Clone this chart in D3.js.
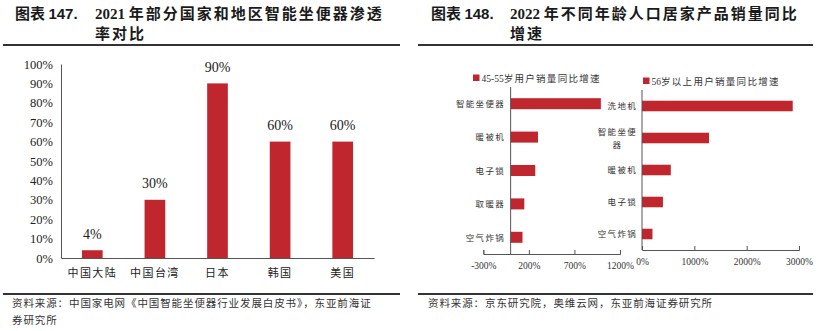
<!DOCTYPE html>
<html>
<head>
<meta charset="utf-8">
<script src="https://cdn.jsdelivr.net/npm/d3@7"></script>
<style>
  body { margin: 0; background: #fff; }
  svg { display: block; }
  .cjk { font-family: "Noto Sans CJK SC", sans-serif; }
  .num { font-family: "Liberation Serif", serif; }
</style>
</head>
<body>
<svg id="chart" width="819" height="331"></svg>
<script>
// left chart: penetration 2021
const regions = ["中国大陆", "中国台湾", "日本", "韩国", "美国"];
const penetration = [0.04, 0.30, 0.90, 0.60, 0.60];
const pctTicks = [0, 0.1, 0.2, 0.3, 0.4, 0.5, 0.6, 0.7, 0.8, 0.9, 1.0];

// right chart: growth by age group (%)
const productsA = ["智能坐便器", "暖被机", "电子锁", "取暖器", "空气炸锅"];
const growthA = [990, 300, 270, 150, 130];
const ticksA = [-300, 200, 700, 1200];
const seriesA = "45-55岁用户销量同比增速";

const productsB = ["洗地机", "智能坐便器", "暖被机", "电子锁", "空气炸锅"];
const growthB = [2880, 1280, 550, 400, 200];
const ticksB = [0, 1000, 2000, 3000];
const seriesB = "56岁以上用户销量同比增速";

const red = "#c0262d";
const axisGrey = "#555";

const svg = d3.select("#chart");

// ---------- titles, rules, sources ----------
function title(x0, x1, num, year, line1, line2) {
  var t = svg.append("text").attr("x", x0).attr("y", 19)
      .attr("fill", "#1a1a1a").style("font-size", "15px").style("font-weight", "bold");
  t.append("tspan").attr("class", "cjk").text("图表 ");
  t.append("tspan").style("font-family", "Liberation Sans, sans-serif").text(num);
  var t2 = svg.append("text").attr("x", x1).attr("y", 19)
      .attr("fill", "#1a1a1a").style("font-size", "15px").style("font-weight", "bold");
  t2.append("tspan").attr("class", "num").text(year + " ");
  t2.append("tspan").attr("class", "cjk").style("letter-spacing", "2px").text(line1);
  svg.append("text").attr("class", "cjk").attr("x", x1).attr("y", 39)
      .attr("fill", "#1a1a1a").style("font-size", "15px").style("font-weight", "bold")
      .style("letter-spacing", "2px").text(line2);
}

title(15, 95, "147.", "2021", "年部分国家和地区智能坐便器渗透", "率对比");
title(431, 510, "148.", "2022", "年不同年龄人口居家产品销量同比", "增速");

[[3, 400], [418, 813]].forEach(([a, b]) => {
  svg.append("line").attr("x1", a).attr("x2", b).attr("y1", 45).attr("y2", 45)
      .attr("stroke", "#333").attr("stroke-width", 2);
  svg.append("line").attr("x1", a).attr("x2", b).attr("y1", 294).attr("y2", 294)
      .attr("stroke", "#333").attr("stroke-width", 2);
});

function source(x, lines) {
  lines.forEach((s, i) => {
    svg.append("text").attr("class", "cjk").attr("x", x).attr("y", 307 + i * 17)
        .attr("fill", "#333").style("font-size", "10.5px").style("letter-spacing", "0.9px")
        .text(s);
  });
}
source(12, ["资料来源：中国家电网《中国智能坐便器行业发展白皮书》，东亚前海证", "券研究所"]);
source(428, ["资料来源：京东研究院，奥维云网，东亚前海证券研究所"]);

// ---------- left: vertical bars ----------
var x = d3.scaleBand().domain(regions).range([61, 374]).paddingInner(0.67).paddingOuter(0.335);
var y = d3.scaleLinear().domain([0, 1]).range([258, 64]);

var gl = svg.append("g");

gl.append("g").attr("transform", "translate(61,0)")
    .call(d3.axisLeft(y).tickValues(pctTicks).tickFormat(d3.format(".0%")).tickSize(0).tickPadding(8))
    .call(g => g.select(".domain").attr("stroke", axisGrey))
    .call(g => g.selectAll("text").attr("class", "num").attr("fill", "#222").style("font-size", "12.5px"));

gl.selectAll("rect.bar")
    .data(regions)
  .enter().append("rect")
    .attr("class", "bar")
    .attr("x", d => x(d))
    .attr("y", (d, i) => y(penetration[i]))
    .attr("width", x.bandwidth())
    .attr("height", (d, i) => y(0) - y(penetration[i]))
    .attr("fill", red);

gl.selectAll("text.val")
    .data(regions)
  .enter().append("text")
    .attr("class", "val num")
    .attr("x", d => x(d) + x.bandwidth() / 2)
    .attr("y", (d, i) => y(penetration[i]) - 11.5)
    .attr("text-anchor", "middle")
    .attr("fill", "#222")
    .style("font-size", "14px")
    .text((d, i) => d3.format(".0%")(penetration[i]));

gl.append("g").attr("transform", "translate(0,258)")
    .call(d3.axisBottom(x).tickSize(0).tickPadding(11).tickSizeOuter(0))
    .call(g => g.select(".domain").attr("stroke", axisGrey))
    .call(g => g.selectAll("text").attr("class", "cjk").attr("fill", "#222")
        .style("font-size", "11px").style("letter-spacing", "1.4px"));

// ---------- right: horizontal bars ----------
function hbars(opts) {
  var xs = d3.scaleLinear().domain(opts.domain).range(opts.xr);
  var ys = d3.scaleBand().domain(opts.cats).range(opts.yr).paddingInner(0.67).paddingOuter(0.335);
  var g = svg.append("g");

  // legend
  g.append("rect").attr("x", opts.legend[0]).attr("y", opts.legend[1] - 3.5)
      .attr("width", 6.5).attr("height", 6.5).attr("fill", red);
  g.append("text").attr("x", opts.legend[0] + 8.5).attr("y", opts.legend[1] + 3.5)
      .attr("fill", "#333").style("font-size", "9.5px")
      .selectAll("tspan")
      .data(opts.series.match(/[0-9\-]+|[^0-9\-]+/g))
    .enter().append("tspan")
      .attr("class", d => /[0-9]/.test(d) ? "num" : "cjk")
      .style("letter-spacing", d => /[0-9]/.test(d) ? "0px" : "1.3px")
      .text(d => d);

  g.selectAll("rect.bar")
      .data(opts.cats)
    .enter().append("rect")
      .attr("class", "bar")
      .attr("x", xs(0))
      .attr("y", d => ys(d))
      .attr("width", (d, i) => xs(opts.values[i]) - xs(0))
      .attr("height", ys.bandwidth())
      .attr("fill", red);

  // x axis with upward ticks
  g.append("g").attr("transform", `translate(0,${opts.yr[1]})`)
      .call(d3.axisBottom(xs).tickValues(opts.ticks).tickFormat(d => d + "%").tickSize(-4).tickPadding(8))
      .call(g => g.selectAll("path, line").attr("stroke", axisGrey))
      .call(g => g.selectAll("text").attr("class", "num").attr("fill", "#333").style("font-size", "9.5px"));

  // category axis at zero
  g.append("line").attr("x1", xs(0)).attr("x2", xs(0))
      .attr("y1", opts.yr[0]).attr("y2", opts.yr[1]).attr("stroke", axisGrey);

  // category labels, wrapped after 4 chars
  var lab = g.selectAll("text.cat")
      .data(opts.cats)
    .enter().append("text")
      .attr("class", "cat cjk")
      .attr("fill", "#333")
      .style("font-size", "8.5px")
      .style("letter-spacing", "1.3px");
  lab.each(function(d) {
    var t = d3.select(this), cy = ys(d) + ys.bandwidth() / 2;
    if (opts.wrap && d.length > 4) {
      var w = 4 * 9.8;
      t.attr("text-anchor", "middle");
      [d.slice(0, 4), d.slice(4)].forEach((s, i) => {
        t.append("tspan").attr("x", opts.labelX - w / 2).attr("y", cy - 3 + i * 12.5).text(s);
      });
    } else {
      t.attr("text-anchor", "end").attr("x", opts.labelX).attr("y", cy + 3.2).text(d);
    }
  });
}

hbars({cats: productsA, values: growthA, domain: [-300, 1200], ticks: ticksA,
       xr: [483.3, 620], yr: [87, 254], labelX: 505, legend: [473, 78], series: seriesA, wrap: false});
hbars({cats: productsB, values: growthB, domain: [0, 3000], ticks: ticksB,
       xr: [642, 799], yr: [90, 250], labelX: 637, legend: [643, 81], series: seriesB, wrap: true});
</script>
</body>
</html>
